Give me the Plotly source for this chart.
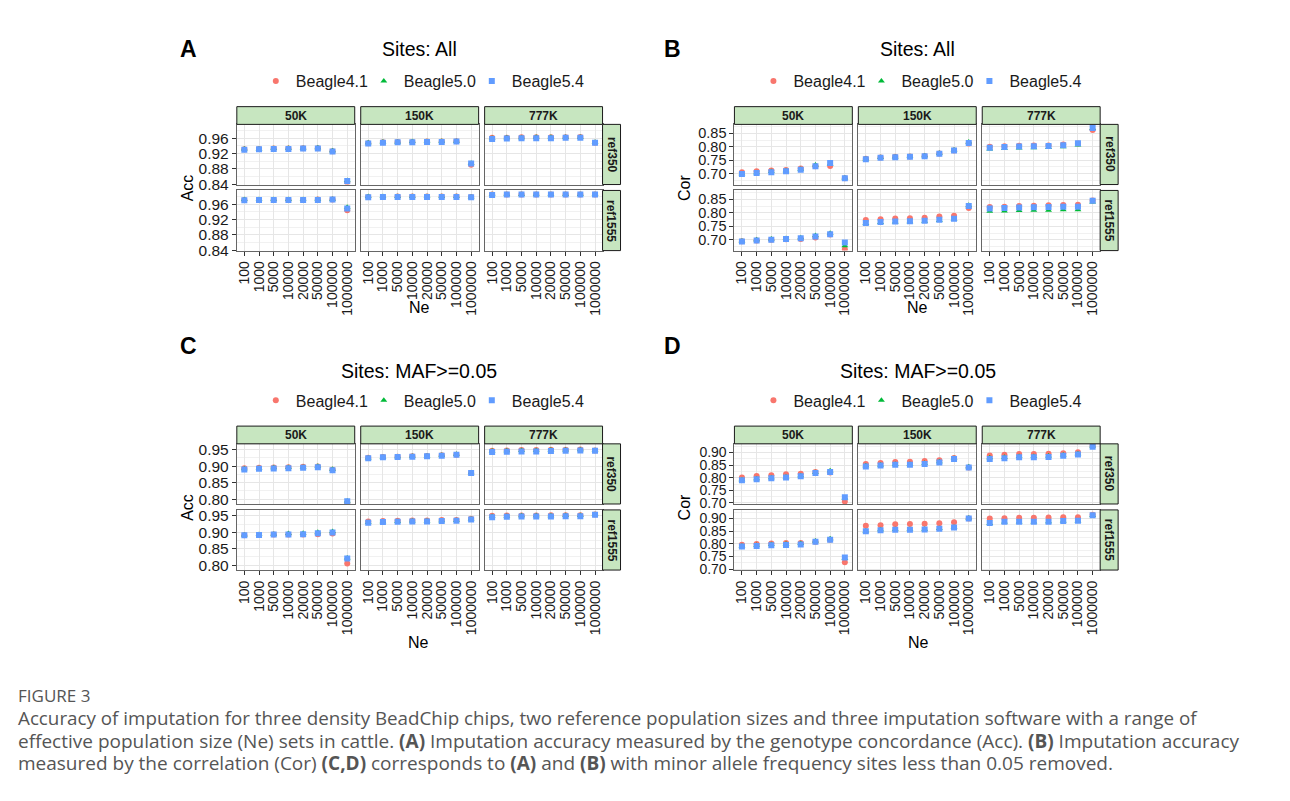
import plotly.graph_objects as go

# ---------------- data ----------------
NE = ["100", "1000", "5000", "10000", "20000", "50000", "100000", "1000000"]
CHIPS = ["50K", "150K", "777K"]
REFS = ["ref350", "ref1555"]
SOFT = ["Beagle4.1", "Beagle5.0", "Beagle5.4"]

# Panel A: Acc, all sites  (rows = 50K, 150K, 777K)
A_REF350_B41 = [[0.931, 0.932, 0.933, 0.933, 0.934, 0.934, 0.926, 0.845],
                [0.947, 0.949, 0.950, 0.950, 0.951, 0.951, 0.952, 0.891],
                [0.961, 0.961, 0.962, 0.962, 0.962, 0.962, 0.963, 0.948]]
A_REF350_B50 = [[0.932, 0.932, 0.933, 0.934, 0.934, 0.935, 0.927, 0.850],
                [0.948, 0.950, 0.950, 0.951, 0.951, 0.952, 0.952, 0.895],
                [0.960, 0.961, 0.961, 0.962, 0.962, 0.962, 0.962, 0.949]]
A_REF350_B54 = [[0.930, 0.931, 0.932, 0.932, 0.933, 0.933, 0.925, 0.849],
                [0.946, 0.948, 0.949, 0.949, 0.950, 0.950, 0.951, 0.894],
                [0.958, 0.959, 0.960, 0.960, 0.960, 0.961, 0.961, 0.948]]
A_REF1555_B41 = [[0.971, 0.971, 0.971, 0.971, 0.971, 0.972, 0.972, 0.944],
                 [0.979, 0.979, 0.980, 0.980, 0.980, 0.980, 0.980, 0.979],
                 [0.985, 0.985, 0.985, 0.985, 0.985, 0.985, 0.985, 0.985]]
A_REF1555_B50 = [[0.972, 0.972, 0.972, 0.972, 0.972, 0.972, 0.973, 0.952],
                 [0.980, 0.980, 0.980, 0.980, 0.980, 0.980, 0.980, 0.979],
                 [0.985, 0.985, 0.985, 0.985, 0.985, 0.985, 0.985, 0.985]]
A_REF1555_B54 = [[0.970, 0.971, 0.971, 0.971, 0.971, 0.971, 0.972, 0.949],
                 [0.978, 0.979, 0.979, 0.979, 0.979, 0.979, 0.979, 0.978],
                 [0.984, 0.985, 0.985, 0.985, 0.985, 0.985, 0.985, 0.985]]

# Panel B: Cor, all sites
B_REF350_B41 = [[0.706, 0.709, 0.712, 0.714, 0.719, 0.728, 0.729, 0.683],
                [0.756, 0.760, 0.763, 0.764, 0.766, 0.775, 0.786, 0.812],
                [0.800, 0.802, 0.804, 0.805, 0.805, 0.808, 0.812, 0.862]]
B_REF350_B50 = [[0.700, 0.704, 0.708, 0.711, 0.717, 0.732, 0.736, 0.684],
                [0.755, 0.760, 0.762, 0.764, 0.767, 0.776, 0.788, 0.818],
                [0.792, 0.794, 0.795, 0.796, 0.797, 0.800, 0.807, 0.868]]
B_REF350_B54 = [[0.699, 0.703, 0.706, 0.709, 0.715, 0.728, 0.740, 0.683],
                [0.754, 0.759, 0.761, 0.763, 0.765, 0.774, 0.786, 0.814],
                [0.796, 0.799, 0.801, 0.802, 0.803, 0.806, 0.813, 0.870]]
B_REF1555_B41 = [[0.695, 0.697, 0.700, 0.702, 0.703, 0.709, 0.720, 0.665],
                 [0.773, 0.776, 0.779, 0.780, 0.782, 0.786, 0.789, 0.818],
                 [0.822, 0.823, 0.825, 0.826, 0.828, 0.829, 0.830, 0.846]]
B_REF1555_B50 = [[0.696, 0.700, 0.703, 0.705, 0.708, 0.716, 0.724, 0.678],
                 [0.760, 0.764, 0.766, 0.767, 0.769, 0.772, 0.776, 0.828],
                 [0.806, 0.807, 0.809, 0.810, 0.810, 0.811, 0.811, 0.840]]
B_REF1555_B54 = [[0.694, 0.697, 0.700, 0.703, 0.706, 0.712, 0.721, 0.690],
                 [0.762, 0.766, 0.768, 0.769, 0.771, 0.774, 0.778, 0.825],
                 [0.816, 0.818, 0.820, 0.821, 0.822, 0.823, 0.823, 0.845]]

# Panel C: Acc, MAF>=0.05
C_REF350_B41 = [[0.894, 0.895, 0.896, 0.897, 0.898, 0.899, 0.889, 0.788],
                [0.926, 0.928, 0.929, 0.930, 0.931, 0.933, 0.935, 0.879],
                [0.947, 0.948, 0.949, 0.949, 0.950, 0.950, 0.951, 0.948]]
C_REF350_B50 = [[0.892, 0.894, 0.895, 0.896, 0.897, 0.900, 0.891, 0.794],
                [0.925, 0.927, 0.929, 0.930, 0.931, 0.933, 0.936, 0.880],
                [0.946, 0.947, 0.948, 0.948, 0.949, 0.949, 0.950, 0.948]]
C_REF350_B54 = [[0.890, 0.892, 0.893, 0.894, 0.895, 0.897, 0.888, 0.793],
                [0.924, 0.927, 0.928, 0.929, 0.930, 0.932, 0.935, 0.879],
                [0.943, 0.944, 0.945, 0.945, 0.946, 0.947, 0.948, 0.947]]
C_REF1555_B41 = [[0.891, 0.892, 0.893, 0.893, 0.893, 0.894, 0.896, 0.805],
                 [0.933, 0.934, 0.935, 0.936, 0.936, 0.937, 0.937, 0.941],
                 [0.950, 0.951, 0.951, 0.951, 0.952, 0.952, 0.952, 0.954]]
C_REF1555_B50 = [[0.892, 0.893, 0.894, 0.896, 0.897, 0.900, 0.902, 0.822],
                 [0.930, 0.932, 0.933, 0.934, 0.934, 0.935, 0.936, 0.940],
                 [0.948, 0.949, 0.950, 0.950, 0.950, 0.951, 0.951, 0.954]]
C_REF1555_B54 = [[0.891, 0.892, 0.893, 0.893, 0.894, 0.897, 0.899, 0.820],
                 [0.929, 0.931, 0.932, 0.933, 0.933, 0.934, 0.935, 0.939],
                 [0.946, 0.947, 0.948, 0.948, 0.948, 0.949, 0.949, 0.953]]

# Panel D: Cor, MAF>=0.05
D_REF350_B41 = [[0.801, 0.807, 0.810, 0.814, 0.816, 0.823, 0.821, 0.706],
                [0.854, 0.858, 0.862, 0.863, 0.866, 0.869, 0.878, 0.840],
                [0.888, 0.891, 0.894, 0.894, 0.895, 0.897, 0.901, 0.925]]
D_REF350_B50 = [[0.792, 0.796, 0.800, 0.803, 0.808, 0.821, 0.828, 0.720],
                [0.847, 0.850, 0.853, 0.853, 0.857, 0.863, 0.876, 0.843],
                [0.879, 0.881, 0.884, 0.884, 0.886, 0.890, 0.895, 0.925]]
D_REF350_B54 = [[0.790, 0.794, 0.798, 0.801, 0.806, 0.819, 0.823, 0.723],
                [0.844, 0.848, 0.851, 0.851, 0.854, 0.860, 0.874, 0.840],
                [0.874, 0.877, 0.881, 0.881, 0.882, 0.887, 0.892, 0.923]]
D_REF1555_B41 = [[0.796, 0.799, 0.801, 0.803, 0.803, 0.808, 0.816, 0.727],
                 [0.871, 0.873, 0.877, 0.878, 0.879, 0.881, 0.885, 0.900],
                 [0.900, 0.901, 0.903, 0.903, 0.904, 0.905, 0.905, 0.915]]
D_REF1555_B50 = [[0.791, 0.794, 0.797, 0.799, 0.801, 0.811, 0.820, 0.742],
                 [0.851, 0.855, 0.856, 0.856, 0.857, 0.860, 0.865, 0.902],
                 [0.880, 0.886, 0.886, 0.886, 0.887, 0.890, 0.890, 0.912]]
D_REF1555_B54 = [[0.789, 0.791, 0.794, 0.795, 0.797, 0.808, 0.816, 0.746],
                 [0.850, 0.854, 0.855, 0.855, 0.856, 0.859, 0.864, 0.900],
                 [0.882, 0.887, 0.887, 0.887, 0.887, 0.890, 0.891, 0.913]]

# ---------------- styling / layout ----------------
COLORS = {"Beagle4.1": "#F8766D", "Beagle5.0": "#00BA38", "Beagle5.4": "#619CFF"}
SYMBOLS = {"Beagle4.1": "circle", "Beagle5.0": "triangle-up", "Beagle5.4": "square"}
FONT = "Liberation Sans, Arial, sans-serif"
STRIP_FILL = "#C7E6C0"
BORDER = "#666666"
GRID = "#E6E6E6"
MINOR = "#F1F1F1"

OX, OY = 8, 8          # body margin of the page
W, H = 1274, 785


def fx(x):
    return (x - OX) / W


def fy(y):
    return 1 - (y - OY) / H


PANELS = [
    dict(label="A", metric="Acc", title="Sites: All", x0=236, top=105,
         data={"ref350": [A_REF350_B41, A_REF350_B50, A_REF350_B54],
               "ref1555": [A_REF1555_B41, A_REF1555_B50, A_REF1555_B54]},
         yr=[0.8395, 0.9957], tick0=0.84, dtick=0.04, yfs=15.5,
         lab=(188, 47), tit=(419, 47), leg=(277, 79), ytit=187, ne=309),
    dict(label="B", metric="Cor", title="Sites: All", x0=734, top=105,
         data={"ref350": [B_REF350_B41, B_REF350_B50, B_REF350_B54],
               "ref1555": [B_REF1555_B41, B_REF1555_B50, B_REF1555_B54]},
         yr=[0.660, 0.883], tick0=0.70, dtick=0.05, yfs=14.5,
         lab=(672, 47), tit=(917, 47), leg=(775, 79), ytit=684, ne=309),
    dict(label="C", metric="Acc", title="Sites: MAF>=0.05", x0=236, top=429,
         data={"ref350": [C_REF350_B41, C_REF350_B50, C_REF350_B54],
               "ref1555": [C_REF1555_B41, C_REF1555_B50, C_REF1555_B54]},
         yr=[0.785, 0.968], tick0=0.80, dtick=0.05, yfs=15.5,
         lab=(188, 348), tit=(418, 373), leg=(277, 403), ytit=187, ne=648),
    dict(label="D", metric="Cor", title="Sites: MAF>=0.05", x0=734, top=429,
         data={"ref350": [D_REF350_B41, D_REF350_B50, D_REF350_B54],
               "ref1555": [D_REF1555_B41, D_REF1555_B50, D_REF1555_B54]},
         yr=[0.696, 0.934], tick0=0.70, dtick=0.05, yfs=14,
         lab=(672, 348), tit=(918, 373), leg=(775, 403), ytit=684, ne=648),
]

fig = go.Figure()
layout = {}
shapes = []
annotations = []

PW, PH, GAP = 118, 61, 6
n = 0
for pi, p in enumerate(PANELS):
    legname = "legend" if pi == 0 else f"legend{pi + 1}"
    x0, top = p["x0"], p["top"]
    for r, ref in enumerate(REFS):
        for c, chip in enumerate(CHIPS):
            n += 1
            xl = x0 + c * (PW + GAP)
            xr = xl + PW
            yt = top + 18 + r * (PH + GAP)
            yb = yt + PH
            xa = "xaxis" if n == 1 else f"xaxis{n}"
            ya = "yaxis" if n == 1 else f"yaxis{n}"
            xs = "x" if n == 1 else f"x{n}"
            ys = "y" if n == 1 else f"y{n}"
            bottom = (r == 1)
            left = (c == 0)
            layout[xa] = dict(
                domain=[fx(xl), fx(xr)], anchor=ys, type="category",
                categoryorder="array", categoryarray=NE,
                tickmode="array", tickvals=NE, ticktext=NE,
                range=[-0.51, 7.51], showgrid=True, gridcolor=GRID, gridwidth=1,
                showline=True, mirror=True, linecolor=BORDER, linewidth=1,
                zeroline=False,
                showticklabels=bottom, ticks="outside" if bottom else "",
                ticklen=4, tickwidth=1, tickcolor="#333333", tickangle=-90,
                tickfont=dict(family=FONT, size=14, color="#1a1a1a"),
            )
            layout[ya] = dict(
                domain=[fy(yb), fy(yt)], anchor=xs, range=p["yr"],
                tickmode="linear", tick0=p["tick0"], dtick=p["dtick"],
                tickformat=".2f",
                showgrid=True, gridcolor=GRID, gridwidth=1,
                minor=dict(dtick=p["dtick"] / 2, tick0=p["tick0"], showgrid=True,
                           gridcolor=MINOR, gridwidth=0.8, ticks=""),
                showline=True, mirror=True, linecolor=BORDER, linewidth=1,
                zeroline=False,
                showticklabels=left, ticks="outside" if left else "",
                ticklen=4, tickwidth=1, tickcolor="#333333",
                tickfont=dict(family=FONT, size=p["yfs"], color="#1a1a1a"),
            )
            for si, s in enumerate(SOFT):
                fig.add_trace(go.Scatter(
                    x=NE, y=p["data"][ref][si][c], mode="markers", name=s,
                    marker=dict(symbol=SYMBOLS[s], color=COLORS[s], size=6,
                                line=dict(width=0)),
                    xaxis=xs, yaxis=ys, legend=legname,
                    showlegend=(r == 0 and c == 0),
                ))
            if r == 0 and c == 0:
                # invisible spacer entry so the last legend label is not clipped
                fig.add_trace(go.Scatter(
                    x=[None], y=[None], mode="markers", name=" ",
                    marker=dict(color="rgba(0,0,0,0)", size=1),
                    xaxis=xs, yaxis=ys, legend=legname, showlegend=True,
                    hoverinfo="skip",
                ))
            # right strip
            if c == 2:
                shapes.append(dict(type="rect", xref="paper", yref="paper",
                                   x0=fx(xr), x1=fx(xr + 18), y0=fy(yb), y1=fy(yt),
                                   fillcolor=STRIP_FILL, line=dict(color="#1a1a1a", width=1),
                                   layer="above"))
                annotations.append(dict(x=fx(xr + 9), y=fy((yt + yb) / 2), xref="paper", yref="paper",
                                        text=f"<b>{ref}</b>", textangle=90, showarrow=False,
                                        font=dict(family=FONT, size=12, color="#1a1a1a"),
                                        xanchor="center", yanchor="middle"))
            # top strip
            if r == 0:
                shapes.append(dict(type="rect", xref="paper", yref="paper",
                                   x0=fx(xl), x1=fx(xr), y0=fy(top + 18), y1=fy(top),
                                   fillcolor=STRIP_FILL, line=dict(color="#1a1a1a", width=1),
                                   layer="above"))
                annotations.append(dict(x=fx((xl + xr) / 2), y=fy(top + 9), xref="paper", yref="paper",
                                        text=f"<b>{chip}</b>", showarrow=False,
                                        font=dict(family=FONT, size=12, color="#1a1a1a"),
                                        xanchor="center", yanchor="middle"))

    # legend
    layout[legname] = dict(
        x=fx(p["leg"][0] - 22), y=fy(p["leg"][1]), xref="paper", yref="paper",
        xanchor="left", yanchor="middle", orientation="h",
        font=dict(family=FONT, size=16, color="#1a1a1a"),
        bgcolor="rgba(0,0,0,0)", borderwidth=0,
        itemwidth=30, entrywidth=63, entrywidthmode="pixels",
        tracegroupgap=0, itemclick=False, itemdoubleclick=False,
    )
    # text
    annotations.append(dict(x=fx(p["lab"][0]), y=fy(p["lab"][1]), xref="paper", yref="paper",
                            text=f"<b>{p['label']}</b>", showarrow=False,
                            font=dict(family=FONT, size=23, color="#000000"),
                            xanchor="center", yanchor="middle"))
    annotations.append(dict(x=fx(p["tit"][0]), y=fy(p["tit"][1]), xref="paper", yref="paper",
                            text=p["title"], showarrow=False,
                            font=dict(family=FONT, size=19.5, color="#000000"),
                            xanchor="center", yanchor="middle"))
    annotations.append(dict(x=fx(p["ytit"]), y=fy(top + 82), xref="paper", yref="paper",
                            text=p["metric"], textangle=-90, showarrow=False,
                            font=dict(family=FONT, size=16, color="#000000"),
                            xanchor="center", yanchor="middle"))
    annotations.append(dict(x=fx(p["tit"][0]), y=fy(p["ne"]), xref="paper", yref="paper",
                            text="Ne", showarrow=False,
                            font=dict(family=FONT, size=16, color="#000000"),
                            xanchor="center", yanchor="middle"))

# caption
CAP_FONT = "Open Sans, Liberation Sans, sans-serif"
CAPTION = [
    ("FIGURE 3", 702, 17),
    ("Accuracy of imputation for three density BeadChip chips, two reference population sizes and three imputation software with a range of", 725, 18.8),
    ("effective population size (Ne) sets in cattle. <b>(A)</b> Imputation accuracy measured by the genotype concordance (Acc). <b>(B)</b> Imputation accuracy", 748, 19),
    ("measured by the correlation (Cor) <b>(C,D)</b> corresponds to <b>(A)</b> and <b>(B)</b> with minor allele frequency sites less than 0.05 removed.", 771, 19),
]
for txt, yy, fs in CAPTION:
    annotations.append(dict(x=fx(15), y=fy(yy), xref="paper", yref="paper", text=txt,
                            showarrow=False, xanchor="left", yanchor="middle",
                            font=dict(family=CAP_FONT, size=fs, color="#555555")))

layout.update(dict(
    width=W, height=H, autosize=False,
    margin=dict(l=0, r=0, t=0, b=0),
    paper_bgcolor="white", plot_bgcolor="white",
    shapes=shapes, annotations=annotations,
    font=dict(family=FONT),
))
fig.update_layout(**layout)
fig.write_html("out.html")
